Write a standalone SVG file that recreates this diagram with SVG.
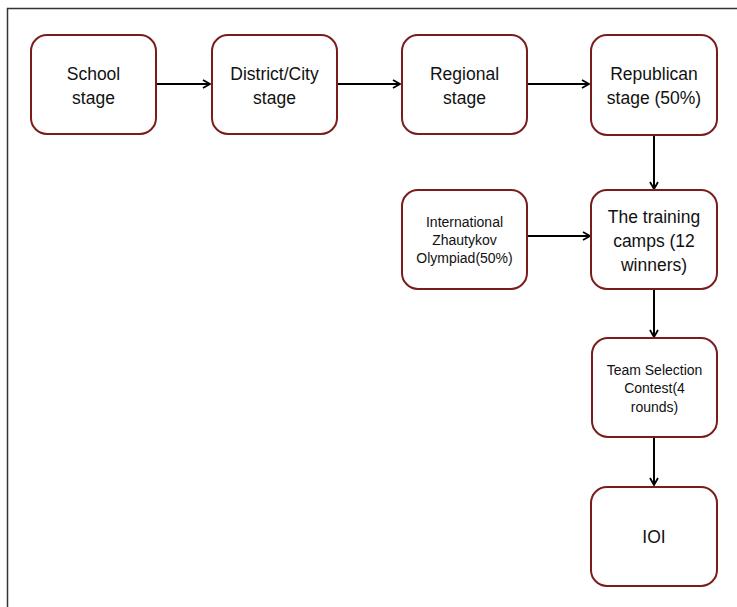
<svg xmlns="http://www.w3.org/2000/svg" width="737" height="607" viewBox="0 0 737 607">
<style>
.box{fill:#fff;stroke:#7b1c1c;stroke-width:2}
.big{font-family:"Liberation Sans",Arial,sans-serif;font-size:17.5px;fill:#111;text-anchor:middle}
.sm{font-family:"Liberation Sans",Arial,sans-serif;font-size:14px;fill:#111;text-anchor:middle}
.conn{stroke:#000;stroke-width:2;fill:none}
</style>
<defs>
<marker id="arr" markerWidth="10" markerHeight="10" refX="8" refY="5" orient="auto" markerUnits="userSpaceOnUse">
<path d="M1,1 L8,5 L1,9" fill="none" stroke="#000" stroke-width="1.8"/>
</marker>
</defs>
<rect width="737" height="607" fill="#fff"/>
<path d="M7.5,607 V8.5 H737" fill="none" stroke="#333" stroke-width="1.5"/>
<g id="connectors">
<line class="conn" x1="157" y1="84" x2="210" y2="84" marker-end="url(#arr)"/>
<line class="conn" x1="337" y1="84" x2="400" y2="84" marker-end="url(#arr)"/>
<line class="conn" x1="527" y1="84" x2="589" y2="84" marker-end="url(#arr)"/>
<line class="conn" x1="654" y1="135" x2="654" y2="189" marker-end="url(#arr)"/>
<line class="conn" x1="527" y1="236" x2="590" y2="236" marker-end="url(#arr)"/>
<line class="conn" x1="654" y1="290" x2="654" y2="337" marker-end="url(#arr)"/>
<line class="conn" x1="654" y1="438" x2="654" y2="485" marker-end="url(#arr)"/>
</g>
<g id="school">
<rect class="box" x="31" y="35" width="125" height="99" rx="16"/>
<text class="big" x="93.5" y="80">School</text>
<text class="big" x="93.5" y="104">stage</text>
</g>
<g id="district">
<rect class="box" x="212" y="35" width="125" height="99" rx="16"/>
<text class="big" x="274.5" y="80">District/City</text>
<text class="big" x="274.5" y="104">stage</text>
</g>
<g id="regional">
<rect class="box" x="402" y="35" width="125" height="99" rx="16"/>
<text class="big" x="464.5" y="80">Regional</text>
<text class="big" x="464.5" y="104">stage</text>
</g>
<g id="republican">
<rect class="box" x="591" y="35" width="126" height="100" rx="16"/>
<text class="big" x="654" y="80">Republican</text>
<text class="big" x="654" y="104">stage (50%)</text>
</g>
<g id="international">
<rect class="box" x="402" y="190" width="125" height="99" rx="16"/>
<text class="sm" x="464.5" y="227">International</text>
<text class="sm" x="464.5" y="245">Zhautykov</text>
<text class="sm" x="464.5" y="263">Olympiad(50%)</text>
</g>
<g id="training">
<rect class="box" x="591" y="190" width="126" height="99" rx="16"/>
<text class="big" x="654" y="223">The training</text>
<text class="big" x="654" y="247">camps (12</text>
<text class="big" x="654" y="271">winners)</text>
</g>
<g id="team">
<rect class="box" x="592" y="338" width="125" height="99" rx="16"/>
<text class="sm" x="654.5" y="375">Team Selection</text>
<text class="sm" x="654.5" y="393">Contest(4</text>
<text class="sm" x="654.5" y="412">rounds)</text>
</g>
<g id="ioi">
<rect class="box" x="591" y="487" width="126" height="99" rx="16"/>
<text class="big" x="654" y="543">IOI</text>
</g>
</svg>
